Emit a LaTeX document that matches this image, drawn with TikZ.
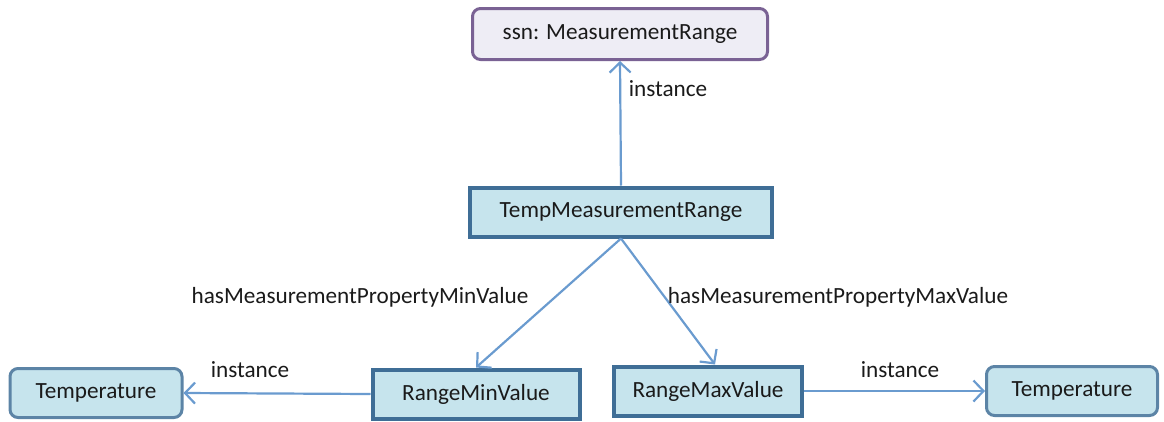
\documentclass[tikz,border=0pt]{standalone}
\usepackage{fontspec}
\setmainfont{Carlito}
\usetikzlibrary{arrows.meta}
\definecolor{boxfill}{HTML}{C6E4ED}
\definecolor{boxline}{HTML}{3F6E96}
\definecolor{classfill}{HTML}{EEEDF5}
\definecolor{classline}{HTML}{7A6294}
\definecolor{linkcol}{HTML}{6A9BCF}
\definecolor{txt}{HTML}{1A1A1A}
\tikzset{
  every node/.style={text=txt, font=\fontsize{23.2}{27}\selectfont},
  classbox/.style={draw=classline, fill=classfill, line width=3pt, rounded corners=8pt,
    minimum width=295, minimum height=51, inner sep=0pt},
  instbox/.style={draw=boxline, fill=boxfill, line width=4pt,
    minimum height=49, inner sep=0pt},
  valbox/.style={draw=boxline!85, fill=boxfill, line width=3pt, rounded corners=8pt,
    minimum height=49, inner sep=0pt},
  link/.style={draw=linkcol, line width=2.2pt,
    -{Straight Barb[length=10pt, width=21pt, line width=2.2pt]}},
  lbl/.style={inner sep=0pt}
}
\begin{document}
\begin{tikzpicture}[x=1pt, y=-1pt]
  \useasboundingbox (0,0) rectangle (1164,421);
  % class and instances
  \node[classbox] (cls) at (620,34) {ssn: MeasurementRange};
  \node[instbox, minimum width=302] (tmr) at (621,212) {TempMeasurementRange};
  \node[instbox, minimum width=207] (minv) at (476,394) {RangeMinValue};
  \node[instbox, minimum width=188] (maxv) at (708,391) {RangeMaxValue};
  \node[valbox, minimum width=172] (tl) at (96,393) {Temperature};
  \node[valbox, minimum width=171] (tr) at (1072,391) {Temperature};
  % connectors
  \draw[link] (tmr.north) -- (cls.south);
  \draw[link] (tmr.south) -- (minv.north);
  \draw[link] (tmr.south) -- ([xshift=7pt]maxv.north);
  \draw[link] (minv.west) -- (tl.east);
  \draw[link] (maxv.east) -- (tr.west);
  % labels
  \node[lbl] (l1) at (668,89) {instance};
  \node[lbl] (l2) at (360,297) {hasMeasurementPropertyMinValue};
  \node[lbl] (l3) at (838,297) {hasMeasurementPropertyMaxValue};
  \node[lbl] (l4) at (250,370) {instance};
  \node[lbl] (l5) at (900,370) {instance};
\end{tikzpicture}
\end{document}
